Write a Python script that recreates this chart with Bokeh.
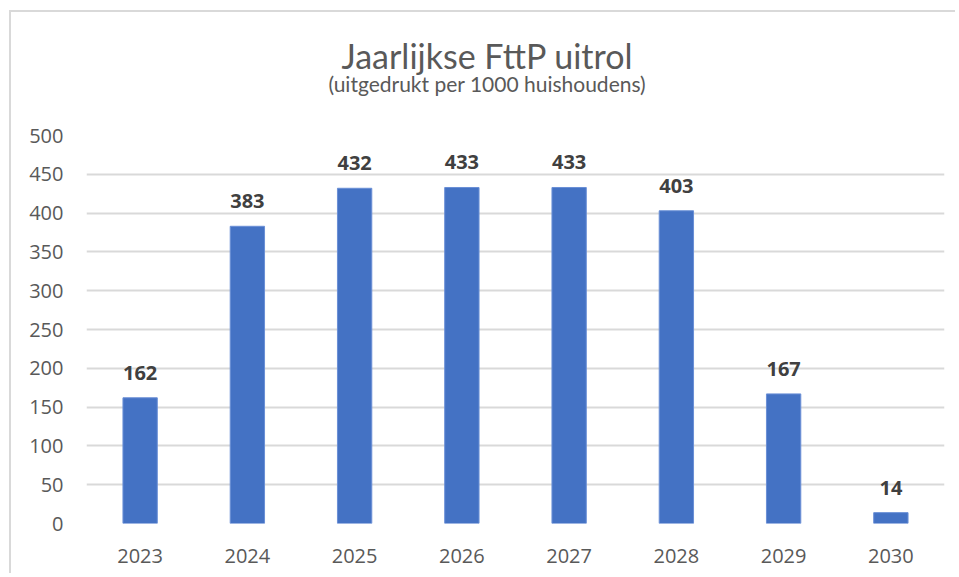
from bokeh.plotting import figure
from bokeh.models import ColumnDataSource, Title, FixedTicker, Range1d
from bokeh.core.properties import value
from bokeh.embed import file_html
from bokeh.resources import INLINE

years = ["2023", "2024", "2025", "2026", "2027", "2028", "2029", "2030"]
rollout = [162, 383, 432, 433, 433, 403, 167, 14]
labels = [str(v) for v in rollout]
y_ticks = [0, 50, 100, 150, 200, 250, 300, 350, 400, 450, 500]
title_text = "Jaarlijkse FttP uitrol"
subtitle_text = "(uitgedrukt per 1000 huishoudens)"

src = ColumnDataSource(dict(year=years, val=rollout, lab=labels))

p = figure(x_range=years, y_range=Range1d(0, 500), width=946, height=563,
           output_backend="svg", toolbar_location=None,
           min_border_left=75, min_border_right=13, min_border_top=123, min_border_bottom=52)
p.styles = {"margin-left": "9px", "margin-top": "10px",
            "border-left": "2px solid #d9d9d9", "border-top": "2px solid #d9d9d9"}

p.vbar(x="year", top="val", width=0.32, source=src,
       fill_color="#4472C4", line_color="#6a8fd6", line_width=1)
p.text(x="year", y="val", text="lab", source=src, text_align="center",
       text_baseline="alphabetic", y_offset=-25,
       text_font=value("Open Sans"), text_font_style="bold",
       text_font_size="20px", text_color="#404040")

# spacer nearest the frame, then subtitle, then title
p.add_layout(Title(text=" ", text_font_size="1px", standoff=37), "above")
p.add_layout(Title(text=subtitle_text, align="left", offset=242,
                   text_font="Lato", text_font_size="21px", text_font_style="normal",
                   text_color="#595959", standoff=0), "above")
p.add_layout(Title(text=title_text, align="left", offset=255,
                   text_font="Lato", text_font_size="34px", text_font_style="normal",
                   text_color="#595959", standoff=-14), "above")

p.outline_line_color = None
p.background_fill_color = "white"
p.border_fill_color = "white"

p.xgrid.grid_line_color = None
p.ygrid.grid_line_color = "#d9d9d9"
p.ygrid.grid_line_width = 2
p.yaxis.ticker = FixedTicker(ticks=y_ticks)

for ax in (p.xaxis, p.yaxis):
    ax.axis_line_color = None
    ax.major_tick_line_color = None
    ax.minor_tick_line_color = None
    ax.major_label_text_font = "Open Sans"
    ax.major_label_text_font_size = "20px"
    ax.major_label_text_color = "#595959"
p.yaxis.major_label_standoff = 17
p.xaxis.major_label_standoff = 19
p.x_range.range_padding = 0.0

open("out.html", "w").write(file_html(p, INLINE))
